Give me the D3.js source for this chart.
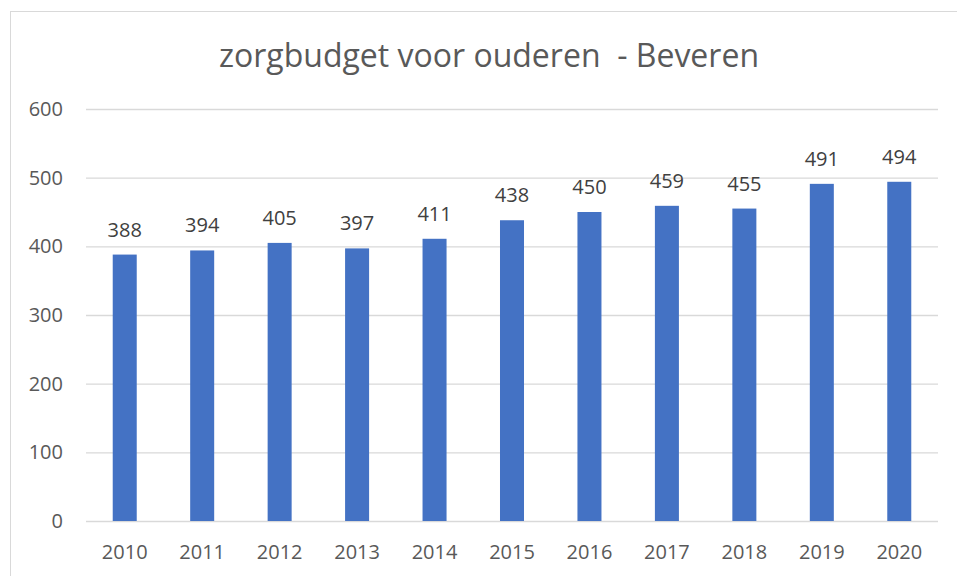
<!DOCTYPE html>
<html>
<head>
<meta charset="utf-8">
<script src="https://cdn.jsdelivr.net/npm/d3@7"></script>
<style>
  html, body { margin: 0; padding: 0; background: #fff; }
  svg { display: block; }
</style>
</head>
<body>
<svg id="chart" width="957" height="576"></svg>
<script>
// Zorgbudget voor ouderen in Beveren, per jaar
const years = ["2010", "2011", "2012", "2013", "2014", "2015", "2016", "2017", "2018", "2019", "2020"];
const values = [388, 394, 405, 397, 411, 438, 450, 459, 455, 491, 494];
const yTicks = [0, 100, 200, 300, 400, 500, 600];
const title = "zorgbudget voor ouderen  - Beveren";

const W = 957, H = 576;
const margin = { left: 86, right: 19, top: 109, bottom: 55 };
const font = "'Open Sans', 'Noto Sans', sans-serif";

const svg = d3.select("#chart");

// chart frame
svg.append("rect")
  .attr("x", 10.5).attr("y", 11.5)
  .attr("width", 980).attr("height", 600)
  .attr("fill", "#fff")
  .attr("stroke", "#D9D9D9").attr("stroke-width", 1);

const x = d3.scaleBand()
  .domain(years)
  .range([margin.left, W - margin.right])
  .paddingInner(0.69).paddingOuter(0.345);

const y = d3.scaleLinear()
  .domain([0, 600])
  .range([H - margin.bottom, margin.top]);

// horizontal gridlines + y labels
const yAxis = d3.axisLeft(y).tickValues(yTicks)
  .tickSize(-(W - margin.left - margin.right)).tickPadding(23);
const gy = svg.append("g")
  .attr("transform", `translate(${margin.left},0)`)
  .call(yAxis);
gy.select(".domain").remove();
gy.selectAll(".tick line").attr("stroke", "#D9D9D9").attr("stroke-width", 1.3);
gy.selectAll(".tick text")
  .attr("fill", "#595959").style("font-family", font).style("font-size", "20px");

// x labels
const xAxis = d3.axisBottom(x).tickSize(0).tickPadding(24);
const gx = svg.append("g")
  .attr("transform", `translate(0,${H - margin.bottom})`)
  .call(xAxis);
gx.select(".domain").remove();
gx.selectAll(".tick text")
  .attr("fill", "#595959").style("font-family", font).style("font-size", "20px");

// bars
svg.append("g").selectAll("rect")
  .data(values)
  .join("rect")
  .attr("x", (d, i) => x(years[i]))
  .attr("width", x.bandwidth())
  .attr("y", d => y(d))
  .attr("height", d => y(0) - y(d))
  .attr("fill", "#4472C4");

// value labels
svg.append("g").selectAll("text")
  .data(values)
  .join("text")
  .attr("x", (d, i) => x(years[i]) + x.bandwidth() / 2)
  .attr("y", d => y(d) - 18)
  .attr("text-anchor", "middle")
  .attr("fill", "#404040")
  .style("font-family", font).style("font-size", "20px")
  .text(d => d);

// title
svg.append("text")
  .attr("x", 489).attr("y", 67)
  .attr("text-anchor", "middle")
  .attr("fill", "#595959")
  .style("font-family", font).style("font-size", "32px")
  .style("white-space", "pre")
  .attr("xml:space", "preserve")
  .text(title);
</script>
</body>
</html>
